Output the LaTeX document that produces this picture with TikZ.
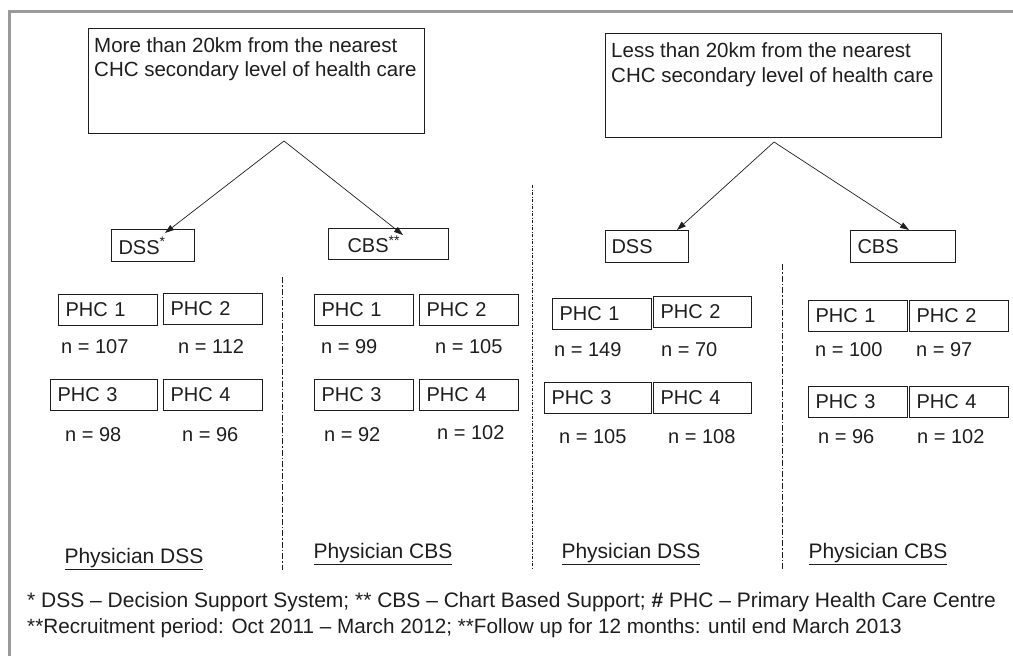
\documentclass[tikz,border=0pt]{standalone}
\usepackage{fontspec}
\setmainfont{Liberation Sans}
\usetikzlibrary{arrows.meta}
\definecolor{ink}{HTML}{1E1E1E}
\definecolor{framegray}{HTML}{9A9A9A}
\begin{document}
\begin{tikzpicture}[x=1pt,y=-1pt,
  every node/.style={text=ink,font=\fontsize{20}{24}\selectfont},
  bx/.style={draw=ink,line width=1.1pt,anchor=north west,align=left,inner ysep=0pt,inner xsep=7pt},
  phc/.style={bx,text width=#1,minimum height=31pt},
  phc/.default=85pt,
  txt/.style={anchor=base west,inner sep=0pt},
  big/.style={font=\fontsize{21}{25}\selectfont},
  arr/.style={draw=ink,line width=0.7pt,-{Triangle[length=9pt,width=6pt]}},
  dd/.style={draw=ink,line width=0.9pt,dash pattern=on 6pt off 2pt on 1.5pt off 2pt},
  ddd/.style={draw=ink,line width=0.9pt,dash pattern=on 3pt off 1.5pt on 1pt off 1.5pt}]
\useasboundingbox (0,0) rectangle (1013,656);
% frame
\draw[framegray,line width=3pt] (9.5,660) -- (9.5,11.5) -- (1016,11.5);
% top boxes
\node[draw=ink,line width=1.1pt,anchor=north west,minimum width=336pt,minimum height=105pt,inner sep=0pt] (tl) at (88,28) {};
\node[txt,font=\fontsize{20.5}{24}\selectfont] (tltext) at (94,52) {\begin{tabular}[t]{@{}l@{}}More than 20km from the nearest\\CHC secondary level of health care\end{tabular}};
\node[draw=ink,line width=1.1pt,anchor=north west,minimum width=336pt,minimum height=104pt,inner sep=0pt] (tr) at (605,33) {};
\node[txt,font=\fontsize{20.5}{24}\selectfont] (trtext) at (611,57) {\begin{tabular}[t]{@{}l@{}}Less than 20km from the nearest\\[1.5pt]CHC secondary level of health care\end{tabular}};
% DSS/CBS boxes
\node[bx,text width=69pt,minimum height=32pt] (ldss) at (111,229) {DSS\textsuperscript{*}};
\node[bx,text width=82pt,minimum height=31pt,inner xsep=19pt] (lcbs) at (328,228) {CBS\textsuperscript{**}};
\node[bx,text width=71pt,minimum height=32pt,inner xsep=6pt] (rdss) at (605,230) {DSS};
\node[bx,text width=91pt,minimum height=32pt,inner xsep=7pt] (rcbs) at (850,230) {CBS};
% arrows
\coordinate (apl) at (284,141);
\coordinate (apr) at (774,142);
\coordinate (tipl1) at (165,233);
\coordinate (tipl2) at (403,235);
\coordinate (tipr1) at (677,230);
\coordinate (tipr2) at (909,230);
\draw[arr] (apl) -- (tipl1);
\draw[arr] (apl) -- (tipl2);
\draw[arr] (apr) -- (tipr1);
\draw[arr] (apr) -- (tipr2);
% separators
\coordinate (s1a) at (282,277); \coordinate (s1b) at (282,570);
\coordinate (s2a) at (532,185); \coordinate (s2b) at (532,569);
\coordinate (s3a) at (782,264); \coordinate (s3b) at (782,570);
\draw[dd] (s1a) -- (s1b);
\draw[ddd] (s2a) -- (s2b);
\draw[dd] (s3a) -- (s3b);
% group 1
\node[phc] (g1a) at (58,294) {PHC 1};
\node[phc] (g1b) at (163,293) {PHC 2};
\node[phc=93pt] (g1c) at (50,379) {PHC 3};
\node[phc] (g1d) at (163,379) {PHC 4};
\node[txt] (n1a) at (61,353) {n = 107};
\node[txt] (n1b) at (178,353) {n = 112};
\node[txt] (n1c) at (65,441) {n = 98};
\node[txt] (n1d) at (182,441) {n = 96};
% group 2
\node[phc] (g2a) at (314,294) {PHC 1};
\node[phc] (g2b) at (419,294) {PHC 2};
\node[phc] (g2c) at (314,379) {PHC 3};
\node[phc] (g2d) at (419,379) {PHC 4};
\node[txt] (n2a) at (321,353) {n = 99};
\node[txt] (n2b) at (435,353) {n = 105};
\node[txt] (n2c) at (324,441) {n = 92};
\node[txt] (n2d) at (437,439) {n = 102};
% group 3
\node[phc] (g3a) at (552,298) {PHC 1};
\node[phc=84pt] (g3b) at (653,296) {PHC 2};
\node[phc=93pt] (g3c) at (544,382) {PHC 3};
\node[phc=84pt] (g3d) at (653,382) {PHC 4};
\node[txt] (n3a) at (554,356) {n = 149};
\node[txt] (n3b) at (661,356) {n = 70};
\node[txt] (n3c) at (559,443) {n = 105};
\node[txt] (n3d) at (668,443) {n = 108};
% group 4
\node[phc] (g4a) at (808,300) {PHC 1};
\node[phc] (g4b) at (909,300) {PHC 2};
\node[phc] (g4c) at (808,386) {PHC 3};
\node[phc] (g4d) at (909,386) {PHC 4};
\node[txt] (n4a) at (815,356) {n = 100};
\node[txt] (n4b) at (916,356) {n = 97};
\node[txt] (n4c) at (818,443) {n = 96};
\node[txt] (n4d) at (917,443) {n = 102};
% physician labels
\node[big,anchor=base,inner sep=0pt] (ph1) at (134,563) {\underline{Physician DSS}};
\node[big,anchor=base,inner sep=0pt] (ph2) at (383,558) {\underline{Physician CBS}};
\node[big,anchor=base,inner sep=0pt] (ph3) at (631,558) {\underline{Physician DSS}};
\node[big,anchor=base,inner sep=0pt] (ph4) at (878,558) {\underline{Physician CBS}};
% footnotes
\node[txt,big] (fn1) at (27,607) {* DSS – Decision Support System; ** CBS – Chart Based Support; \textbf{\#} PHC – Primary Health Care Centre};
\node[txt,font=\fontsize{20.7}{25}\selectfont] (fn2) at (27,633) {**Recruitment period: Oct 2011 – March 2012; **Follow up for 12 months: until end March 2013};
\end{tikzpicture}
\end{document}
